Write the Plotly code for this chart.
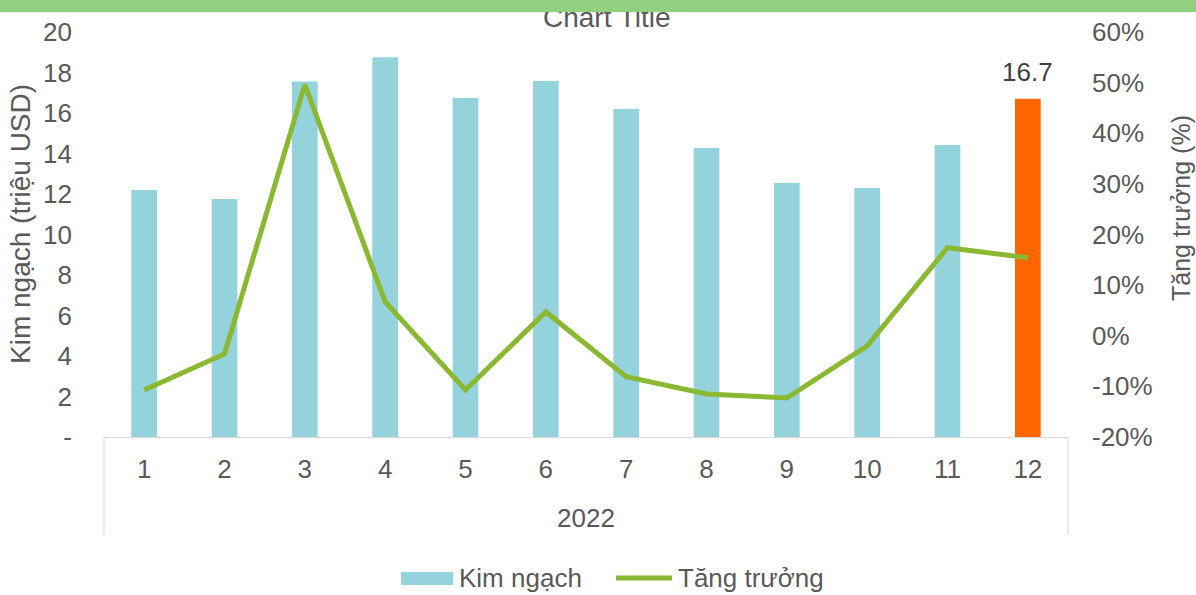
import plotly.graph_objects as go

months = ["1", "2", "3", "4", "5", "6", "7", "8", "9", "10", "11", "12"]
year_label = "2022"
kim_ngach = [12.2, 11.75, 17.56, 18.75, 16.74, 17.58, 16.2, 14.27, 12.54, 12.3, 14.42, 16.7]
tang_truong = [-0.107, -0.036, 0.496, 0.067, -0.107, 0.047, -0.081, -0.115, -0.123, -0.02, 0.174, 0.154]
left_ticks = [0, 2, 4, 6, 8, 10, 12, 14, 16, 18, 20]
left_ticktext = ["-", "2", "4", "6", "8", "10", "12", "14", "16", "18", "20"]
right_ticks = [-0.2, -0.1, 0, 0.1, 0.2, 0.3, 0.4, 0.5, 0.6]
right_ticktext = ["-20%", "-10%", "0%", "10%", "20%", "30%", "40%", "50%", "60%"]

BAR = "#95D3DC"
HIGHLIGHT = "#FF6600"
LINE = "#8AB833"
TXT = "#595959"
FONT = "Liberation Sans, Arial, sans-serif"
FS = 26

bar_colors = [BAR] * (len(months) - 1) + [HIGHLIGHT]

fig = go.Figure()
fig.add_trace(go.Bar(x=months, y=kim_ngach, marker=dict(color=bar_colors, line=dict(width=0)),
                     name="Kim ngạch", showlegend=False))
fig.add_trace(go.Scatter(x=months, y=tang_truong, yaxis="y2", mode="lines",
                         line=dict(color=LINE, width=5), name="Tăng trưởng", showlegend=False))

W, H = 1196, 595
L, R, T, B = 104, 128, 32, 158
pw, ph = W - L - R, H - T - B

def px(xp):
    return (xp - L) / pw

def py(yp):
    return (H - B - yp) / ph

fig.update_layout(
    width=W, height=H,
    margin=dict(l=L, r=R, t=T, b=B, pad=0),
    paper_bgcolor="white", plot_bgcolor="white",
    bargap=0.68,
    font=dict(family=FONT, size=FS, color=TXT),
    showlegend=False,
    xaxis=dict(type="category", range=[-0.5, len(months) - 0.5], showgrid=False, showline=True,
               linecolor="#D9D9D9", linewidth=1, ticks="", ticklabelstandoff=9,
               tickfont=dict(size=FS, color=TXT), zeroline=False),
    yaxis=dict(range=[0, 20], tickvals=left_ticks, ticktext=left_ticktext, showgrid=False,
               showline=False, zeroline=False, ticks="", ticklabelstandoff=31,
               tickfont=dict(size=FS, color=TXT)),
    yaxis2=dict(range=[-0.2, 0.6], tickvals=right_ticks, ticktext=right_ticktext, overlaying="y",
                side="right", showgrid=False, showline=False, zeroline=False, ticks="",
                ticklabelstandoff=23, tickfont=dict(size=FS, color=TXT)),
)

line_style = dict(color="#D9D9D9", width=1)
fig.add_shape(type="line", xref="paper", yref="paper", x0=0, x1=0, y0=0, y1=py(535), line=line_style)
fig.add_shape(type="line", xref="paper", yref="paper", x0=1, x1=1, y0=0, y1=py(535), line=line_style)

# legend (custom)
fig.add_shape(type="rect", xref="paper", yref="paper", x0=px(401), x1=px(453), y0=py(585), y1=py(572),
              fillcolor=BAR, line=dict(width=0))
fig.add_shape(type="line", xref="paper", yref="paper", x0=px(616), x1=px(672), y0=py(578), y1=py(578),
              line=dict(color=LINE, width=5))

# data label on the last bar (category index of the last month)
fig.add_annotation(x=len(months) - 1, y=kim_ngach[-1], text=f"{kim_ngach[-1]:.1f}", showarrow=False,
                   yanchor="bottom", yshift=10, font=dict(size=FS, color="#404040"))

ann = [
    dict(text="Chart Title", x=px(607), y=py(17), font=dict(size=28, color=TXT)),
    dict(text=year_label, x=0.5, y=py(518), font=dict(size=FS, color=TXT)),
    dict(text="Kim ngạch (triệu USD)", x=px(20), y=py(224), textangle=-90, font=dict(size=28, color=TXT)),
    dict(text="Tăng trưởng (%)", x=px(1181), y=py(208), textangle=-90, font=dict(size=25, color=TXT)),
    dict(text="Kim ngạch", x=px(457), y=py(578), xanchor="left", font=dict(size=FS, color=TXT)),
    dict(text="Tăng trưởng", x=px(676), y=py(578), xanchor="left", font=dict(size=FS, color=TXT)),
    dict(text=" ", x=px(598), y=py(6), width=W + 4, height=12, bgcolor="#92D07F", borderpad=0,
         borderwidth=0, font=dict(size=8)),
]
for a in ann:
    base = dict(xref="paper", yref="paper", showarrow=False, yanchor="middle")
    base.setdefault("xanchor", "center")
    base.update(a)
    fig.add_annotation(**base)

fig.write_html("out.html", config={"displayModeBar": False},
               post_script="document.body.style.margin='0px';")
